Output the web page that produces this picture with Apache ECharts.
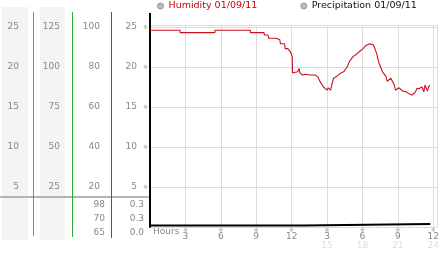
<!DOCTYPE html>
<html>
<head>
<meta charset="utf-8">
<script src="https://cdn.jsdelivr.net/npm/echarts@6/dist/echarts.min.js"></script>
<style>
html,body{margin:0;padding:0;background:#fff;}
#c{width:442px;height:253px;}
</style>
</head>
<body>
<div id="c"></div>
<script>
// ---- data ----
var humidityName = 'Humidity 01/09/11';
var precipName = 'Precipitation 01/09/11';
var humidity = [
  [0,24.6],[2.55,24.6],[2.55,24.3],[5.5,24.3],[5.5,24.6],[8.5,24.6],[8.5,24.3],[9.65,24.3],
  [9.7,24.0],[10.0,24.0],[10.05,23.6],[10.7,23.6],[10.75,23.5],[11.0,23.4],[11.05,22.9],[11.4,22.9],
  [11.45,22.3],[11.67,22.3],[11.9,21.9],[12.05,21.3],[12.08,19.25],[12.2,19.4],[12.5,19.4],
  [12.64,19.8],[12.7,19.3],[12.9,19.0],[13.2,19.1],[13.5,19.0],[14.0,19.0],[14.2,18.8],[14.4,18.2],
  [14.7,17.5],[15.0,17.1],[15.1,17.4],[15.3,17.1],[15.4,17.75],[15.55,18.6],[15.8,18.8],[16.1,19.2],
  [16.4,19.4],[16.7,20.0],[16.9,20.7],[17.2,21.3],[17.5,21.6],[17.8,22.0],[18.05,22.3],[18.3,22.7],
  [18.6,22.9],[18.9,22.8],[19.0,22.5],[19.2,21.7],[19.4,20.5],[19.7,19.4],[20.0,18.8],[20.1,18.2],
  [20.4,18.6],[20.55,18.8],[20.7,17.75],[20.8,17.1],[21.1,17.4],[21.4,17.0],[21.7,16.9],[21.9,16.7],
  [22.2,16.5],[22.5,16.9],[22.6,17.3],[22.8,17.3],[23.05,17.5],[23.2,16.9],[23.3,17.75],[23.5,17.0],
  [23.6,17.5],[23.7,17.75]
];
var precipitation = [[0,0],[13.0,0],[13.0,0.3],[23.75,0.3]];

var xTickValues = [3,6,9,12,15,18,21,24];
var xTickTop = ['3','6','9','12','3','6','9','12'];
var xTickBottom = ['','','','','15','18','21','24'];
var yTicksMain = [5,10,15,20,25];      // humidity axis (black)
var yTicksRed = [20,40,60,80,100];     // red column
var yTicksGreen = [25,50,75,100,125];  // green column
var yTicksBlue = [5,10,15,20,25];      // blue column
var statsRed = ['98','70','65'];
var statsMain = ['0.3','0.3','0.0'];

// ---- chart ----
var FONT = 'DejaVu Sans';
var chart = echarts.init(document.getElementById('c'), null, {renderer:'canvas'});

function yAxisFor(ticks, max, offset, margin, interval, main) {
  var ax = {
    type:'value', position:'left', offset:offset, min:0, max:max, interval:interval,
    axisLine:{show:main, onZero:false, lineStyle:{color:'#000', width:2}},
    axisTick:{show:false},
    splitLine:{show:main, lineStyle:{color:'#dcdcdc', width:1}},
    axisLabel:{
      margin:margin, fontFamily:FONT, fontSize:9, color:'#888',
      formatter:function(v){
        if (ticks.indexOf(v) < 0) return '';
        return main ? '{v|' + v + '}{m|※}' : String(v);
      }
    }
  };
  if (main) {
    ax.axisLabel.rich = {
      v:{fontFamily:FONT, fontSize:9, color:'#888', padding:[0,6,0,0]},
      m:{fontFamily:FONT, fontSize:6, color:'#999'}
    };
  }
  return ax;
}

var gridTopPx = 25, gridBottomPx = 227;
var statY = [204.5, 218.7, 232.3];
var graphics = [
  {type:'rect', shape:{x:2,y:7,width:26,height:233}, style:{fill:'#f4f4f4'}, z:-10},
  {type:'rect', shape:{x:40,y:7,width:25,height:233}, style:{fill:'#f4f4f4'}, z:-10},
  {type:'rect', shape:{x:0,y:196,width:149,height:2}, style:{fill:'#b4b4b4'}, z:50},
  {type:'rect', shape:{x:33,y:12,width:1,height:224}, style:{fill:'#22a8e0'}, z:100},
  {type:'rect', shape:{x:72,y:12,width:1,height:225}, style:{fill:'#2ea836'}, z:100},
  {type:'rect', shape:{x:111,y:12,width:1,height:226}, style:{fill:'#e01c1c'}, z:100},
  {type:'rect', shape:{x:149,y:13,width:2,height:13}, style:{fill:'#000'}, z:100},
  {type:'text', x:153, y:232, style:{text:'Hours', fontFamily:FONT, fontSize:9, fill:'#888', verticalAlign:'middle'}}
];
statsRed.forEach(function(t,i){
  graphics.push({type:'text', x:105, y:statY[i], style:{text:t, fontFamily:FONT, fontSize:9, fill:'#888', align:'right', verticalAlign:'middle'}});
});
statsMain.forEach(function(t,i){
  graphics.push({type:'text', x:144, y:statY[i], style:{text:t, fontFamily:FONT, fontSize:9, fill:'#888', align:'right', verticalAlign:'middle'}});
});

var maxY = 25.25;
chart.setOption({
  animation:false,
  backgroundColor:'#fff',
  textStyle:{fontFamily:FONT},
  legend:{
    left:152, top:0, padding:[1,5,1,5], icon:'circle', itemWidth:6, itemHeight:6, itemGap:43, itemTextGap:3,
    textStyle:{fontFamily:FONT, fontSize:9.5},
    itemStyle:{color:'#bbb', borderColor:'#999', borderWidth:1},
    data:[
      {name:humidityName, textStyle:{color:'#cc0000'}},
      {name:precipName, textStyle:{color:'#111'}}
    ]
  },
  grid:{left:150, right:0, top:gridTopPx, bottom:253-gridBottomPx, containLabel:false},
  xAxis:{
    type:'value', min:0, max:24.33, interval:3,
    axisLine:{show:false}, axisTick:{show:false},
    splitLine:{show:true, lineStyle:{color:'#dcdcdc', width:1}},
    axisLabel:{
      margin:0,
      formatter:function(v){
        var i = xTickValues.indexOf(v);
        if (i < 0) return '';
        var s = '{m|※}\n{v|' + xTickTop[i] + '}';
        if (xTickBottom[i]) s += '\n{s|' + xTickBottom[i] + '}';
        return s;
      },
      rich:{
        m:{fontFamily:FONT, fontSize:6, lineHeight:6, color:'#999'},
        v:{fontFamily:FONT, fontSize:9, lineHeight:8, color:'#888'},
        s:{fontFamily:FONT, fontSize:9, lineHeight:9, color:'#dedede'}
      }
    }
  },
  yAxis:[
    yAxisFor(yTicksMain, maxY, 0, 2, 5, true),
    yAxisFor(yTicksRed, maxY*4, 39, 11, 20, false),
    yAxisFor(yTicksGreen, maxY*5, 78, 12, 25, false),
    yAxisFor(yTicksBlue, maxY, 117, 14, 5, false),
    {type:'value', show:false, min:-0.3, max:40.1, splitLine:{show:false}}
  ],
  series:[
    {name:humidityName, type:'line', yAxisIndex:0, data:humidity, showSymbol:false, symbol:'none',
     lineStyle:{color:'#cc1020', width:1.1}, itemStyle:{color:'#cc1020'}, z:3},
    {name:precipName, type:'line', yAxisIndex:4, data:precipitation, showSymbol:false, symbol:'none',
     lineStyle:{color:'#000', width:2.2}, itemStyle:{color:'#000'}, z:4}
  ],
  graphic:graphics
});
</script>
</body>
</html>
